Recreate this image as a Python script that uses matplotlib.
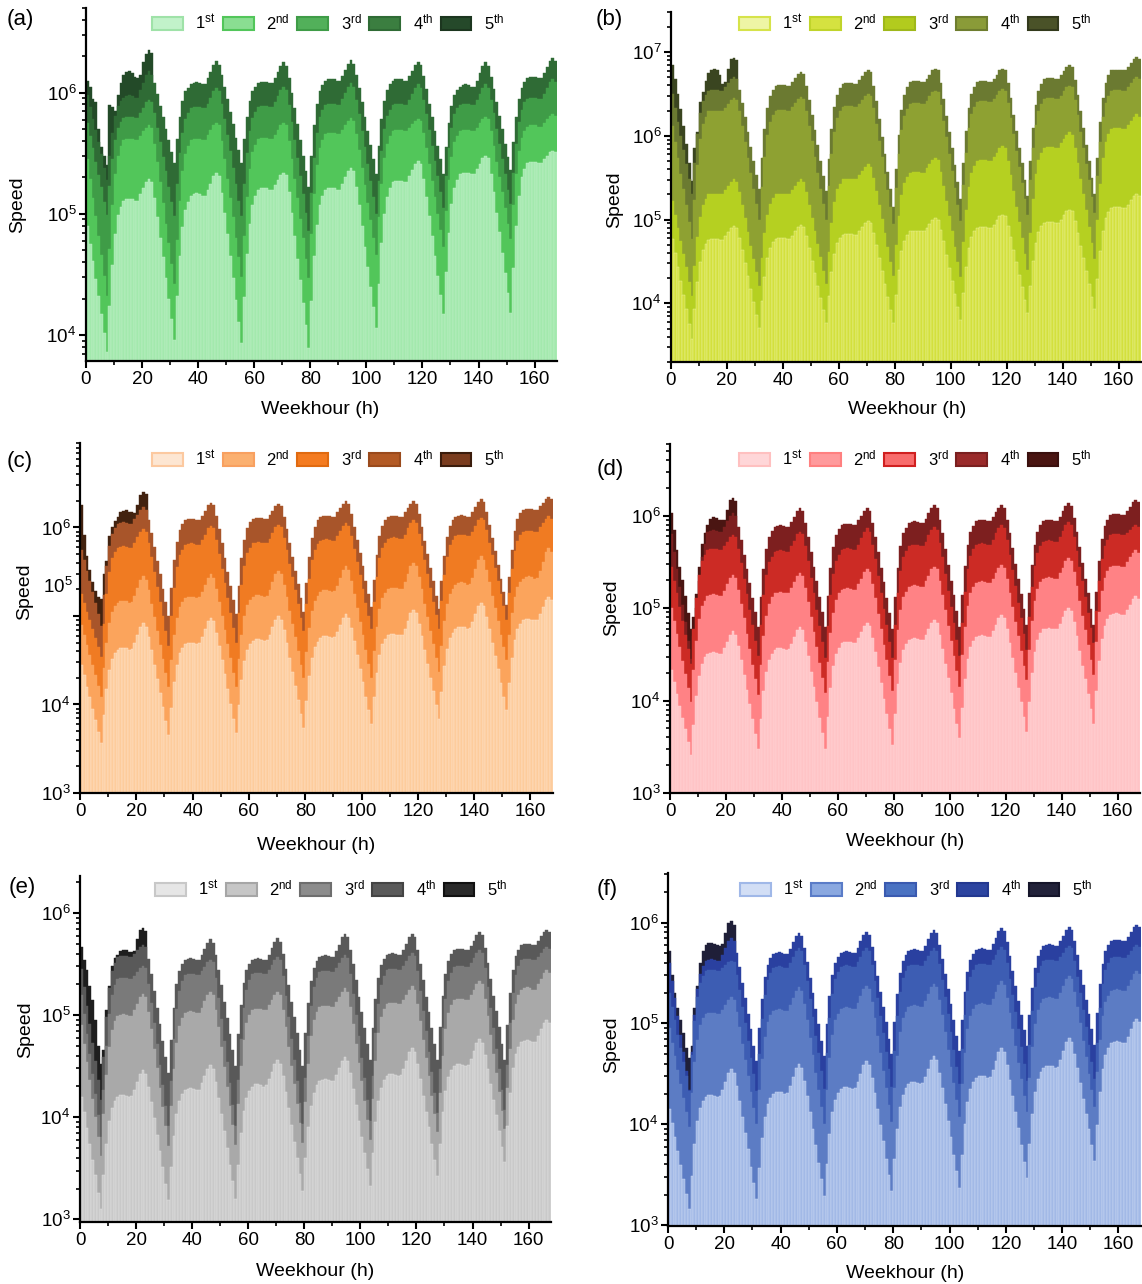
import numpy as np
import matplotlib
matplotlib.use('Agg')
import matplotlib.pyplot as plt
from matplotlib.patches import Patch
from matplotlib.ticker import MultipleLocator, LogLocator, FuncFormatter, NullFormatter

plt.rcParams['font.family'] = ['Liberation Sans', 'DejaVu Sans']
plt.rcParams['mathtext.fontset'] = 'custom'
plt.rcParams['mathtext.rm'] = 'Liberation Sans'
plt.rcParams['mathtext.it'] = 'Liberation Sans:italic'
plt.rcParams['mathtext.bf'] = 'Liberation Sans:bold'

# Hourly speed over one week, stored as 100*log10(speed), one row per day
hours = np.arange(168)
rank_labels = [r'1$^{\mathrm{st}}$', r'2$^{\mathrm{nd}}$', r'3$^{\mathrm{rd}}$',
               r'4$^{\mathrm{th}}$', r'5$^{\mathrm{th}}$']

# ---- (a) ----
a_1st = [490,475,461,446,432,417,402,386,424,458,483,499,506,511,512,512,512,511,511,516,521,526,529,526,
         513,497,480,464,447,430,413,396,432,465,489,503,510,515,516,517,516,515,515,520,525,531,534,531,
         517,501,483,465,447,429,411,393,431,467,492,507,515,520,521,521,521,520,520,524,528,532,534,532,
         518,501,482,463,445,426,408,389,428,465,491,507,515,520,521,521,521,520,520,525,530,535,538,535,
         522,507,490,473,456,440,423,406,442,476,500,514,521,526,527,527,527,526,526,531,536,541,544,541,
         529,514,498,482,465,449,433,417,452,484,508,521,528,533,534,534,534,533,533,537,541,546,548,546,
         533,518,501,485,468,451,435,418,455,490,515,530,537,542,543,543,543,542,542,545,548,551,552,551]
a_2nd = [545,529,513,498,482,466,449,432,471,507,533,548,556,561,562,562,562,561,561,564,568,571,573,571,
         558,543,526,509,492,476,459,442,478,511,535,549,556,561,562,562,562,561,561,565,569,573,575,573,
         560,545,529,513,497,480,464,448,482,514,537,551,557,562,563,563,563,562,562,565,569,573,575,573,
         560,545,529,513,496,480,463,447,483,516,540,554,561,566,567,567,567,566,566,569,573,577,579,577,
         566,553,538,524,509,495,480,466,497,525,546,558,564,568,569,569,569,568,568,571,574,577,578,577,
         567,554,541,527,514,500,487,473,502,528,547,559,564,568,569,569,569,568,568,571,575,578,580,578,
         568,556,543,530,518,505,492,479,507,533,552,563,568,572,573,573,573,572,572,575,578,581,582,581]
a_3rd = [575,564,554,543,532,522,510,499,523,545,561,571,576,579,580,580,580,579,579,583,587,592,594,592,
         583,571,559,547,535,522,510,498,525,550,567,578,583,587,588,588,588,587,587,591,596,601,604,601,
         591,578,565,552,538,525,511,498,525,550,568,579,584,588,589,589,589,588,588,592,597,602,605,602,
         590,576,561,546,531,516,501,486,517,546,567,580,586,590,591,591,591,590,590,595,600,605,608,605,
         594,582,568,555,541,527,514,500,527,552,570,581,586,590,591,591,591,590,590,594,599,604,607,604,
         594,582,569,556,544,531,518,505,531,554,571,582,587,590,591,591,591,590,590,594,599,604,607,604,
         594,583,570,558,545,533,520,508,534,558,576,586,592,595,596,596,596,595,595,599,604,609,611,609]
a_4th = [598,588,578,569,559,549,538,528,548,567,581,589,593,596,597,598,597,596,596,602,608,615,618,615,
         608,599,589,580,570,561,551,542,562,580,593,601,604,607,608,609,608,607,607,612,617,623,626,623,
         615,605,595,584,574,563,553,542,562,580,593,601,605,608,609,609,609,608,608,612,617,622,625,622,
         612,600,587,574,561,548,535,522,548,573,591,601,606,610,611,611,611,610,610,614,619,624,627,624,
         615,604,592,580,568,557,545,533,556,578,593,602,607,610,611,611,611,610,610,614,618,623,625,623,
         614,603,591,580,568,556,545,533,555,575,589,598,602,605,606,607,606,605,605,610,616,622,625,622,
         613,603,592,581,570,558,547,536,559,580,595,604,609,612,613,613,613,612,612,616,621,626,629,626]
a_5th = [610,605,595,592,570,555,548,540,590,588,585,598,608,615,617,618,616,613,612,615,625,632,635,633]

# ---- (b) ----
b_1st = [477,460,443,427,410,393,375,357,393,426,450,464,471,476,477,477,477,476,476,480,485,490,492,490,
         478,464,448,433,417,402,386,371,403,432,454,466,473,477,478,478,478,477,477,481,486,491,493,491,
         480,466,451,436,421,407,392,377,409,438,459,472,478,482,483,483,483,482,482,486,491,496,498,496,
         484,470,454,439,423,408,392,377,410,440,462,475,482,486,487,487,487,486,486,490,495,500,502,500,
         488,474,458,442,427,411,396,380,413,444,466,479,486,490,491,491,491,490,490,494,499,504,506,504,
         492,479,464,449,434,419,404,389,421,451,472,485,492,496,497,497,497,496,496,500,505,510,512,510,
         498,484,469,454,439,423,408,393,429,463,487,502,509,514,515,515,515,514,514,518,523,528,530,528]
b_2nd = [522,506,490,475,459,443,426,409,445,479,503,518,525,530,531,531,531,530,530,535,540,545,548,545,
         533,518,502,485,469,453,437,421,454,484,506,519,526,530,531,531,531,530,530,535,540,545,548,545,
         533,518,502,486,471,455,439,423,461,496,521,536,543,548,549,549,549,548,548,553,558,563,566,563,
         550,534,517,501,484,467,450,433,470,504,529,544,551,556,557,557,557,556,556,561,566,571,574,571,
         557,540,522,504,486,467,449,431,473,512,539,556,564,570,571,571,571,570,570,575,580,585,588,585,
         570,553,534,515,497,478,459,440,484,525,554,571,580,586,587,587,587,586,586,591,596,601,604,601,
         586,568,549,530,511,491,472,453,500,543,574,593,602,608,609,609,609,608,608,613,618,623,626,623]
b_3rd = [612,593,574,555,536,517,497,477,523,565,596,614,623,629,630,630,630,629,629,633,638,643,645,643,
         629,612,593,574,556,537,519,500,539,575,601,617,625,630,631,631,631,630,630,634,639,644,646,644,
         630,612,594,575,556,537,519,500,540,578,605,621,629,634,635,635,635,634,634,638,643,648,650,648,
         633,614,594,575,555,535,515,495,538,578,607,624,632,638,639,639,639,638,638,642,647,652,654,652,
         637,618,598,578,558,538,518,498,541,580,609,626,634,640,641,641,641,640,640,644,649,654,656,654,
         639,621,602,582,563,544,524,505,547,586,613,630,638,644,645,645,645,644,644,648,653,658,660,658,
         643,625,605,586,566,547,527,508,552,593,622,639,648,654,655,655,655,654,654,658,663,668,670,668]
b_4th = [650,633,616,600,583,566,548,530,567,602,627,642,649,654,655,655,655,654,654,658,663,668,670,668,
         655,639,622,605,587,570,553,536,573,608,633,648,655,660,661,661,661,660,660,664,669,674,676,674,
         660,643,625,607,589,570,552,534,572,608,634,649,657,662,663,663,663,662,662,666,671,676,678,676,
         660,641,620,599,578,557,536,515,560,601,631,649,658,664,665,665,665,664,664,668,673,678,680,678,
         663,644,624,605,585,565,545,525,567,606,633,650,658,664,665,665,665,664,664,668,673,678,680,678,
         663,645,625,606,586,567,547,528,570,609,637,654,662,668,669,669,669,668,668,672,677,682,684,682,
         667,649,629,609,589,570,550,530,574,616,645,663,672,678,679,679,679,678,678,682,687,692,694,692]
b_5th = [685,668,650,632,612,590,568,546,585,605,640,652,665,675,678,680,679,672,662,664,680,692,693,690]

# ---- (c) ----
c_1st = [445,433,420,408,395,383,369,356,388,417,439,451,458,462,464,464,464,462,463,470,479,488,492,488,
         476,461,445,429,413,397,381,365,396,425,445,458,464,468,470,470,470,468,469,476,485,494,498,494,
         481,466,450,434,417,401,384,368,399,428,449,462,468,472,474,474,473,472,473,479,487,496,500,496,
         484,469,453,437,421,405,389,373,404,432,453,465,471,475,477,477,476,475,476,482,490,498,502,498,
         486,472,456,440,425,409,394,378,408,436,456,468,474,478,480,480,479,478,479,485,494,503,507,503,
         491,477,461,446,430,415,399,384,414,443,463,475,481,485,487,487,487,485,486,493,502,511,515,511,
         499,485,470,455,440,424,409,394,424,453,473,485,491,495,497,497,496,495,496,502,510,518,522,518]
c_2nd = [490,479,467,456,445,433,421,409,441,470,492,504,511,515,517,517,517,515,516,523,532,541,545,541,
         529,514,499,483,467,451,436,420,450,478,498,510,516,520,522,522,521,520,521,527,535,543,547,543,
         531,516,500,484,468,452,436,420,451,479,500,512,518,522,524,524,523,522,523,529,538,547,551,547,
         535,521,506,491,476,460,445,430,459,486,506,517,523,527,529,529,528,527,528,534,543,552,556,552,
         540,525,509,493,478,462,446,430,460,488,508,520,526,530,532,532,532,530,531,538,547,556,560,556,
         544,530,514,499,483,468,452,437,466,494,513,525,531,535,537,538,537,535,536,543,553,563,568,563,
         552,538,523,509,494,479,465,450,478,503,522,533,538,542,544,545,544,542,543,551,561,572,577,572]
c_3rd = [525,515,505,495,485,475,465,454,491,525,550,565,572,577,578,579,578,577,577,582,589,595,598,595,
         582,567,550,533,516,500,483,466,500,532,555,569,575,580,581,582,581,580,580,586,592,599,602,599,
         586,570,553,537,520,503,486,469,503,535,557,571,577,582,583,584,583,582,582,587,594,600,603,600,
         588,574,559,544,529,513,498,483,514,542,563,575,581,585,586,587,586,585,585,590,596,602,605,602,
         590,576,561,546,531,515,500,485,516,544,565,577,583,587,588,589,588,587,587,592,599,605,608,605,
         593,579,563,547,532,516,501,485,517,546,567,580,586,590,591,592,591,590,590,595,602,608,611,608,
         597,583,569,554,540,525,511,496,526,553,573,585,591,595,596,596,596,595,595,600,605,610,613,610]
c_4th = [575,563,551,539,527,515,502,489,524,556,579,593,599,604,605,606,605,604,604,609,614,620,623,620,
         608,594,578,562,547,531,516,500,532,563,584,597,604,608,609,610,609,608,608,613,619,625,628,625,
         613,598,582,566,550,534,518,502,534,565,586,599,606,610,611,611,611,610,610,614,619,624,627,624,
         612,598,582,567,551,536,520,505,537,567,588,601,608,612,613,613,613,612,612,617,622,627,630,627,
         615,601,586,571,556,540,525,510,541,569,590,602,608,612,613,613,613,612,612,617,622,627,630,627,
         615,601,585,570,554,539,523,508,539,568,589,602,608,612,613,614,613,612,612,617,623,629,632,629,
         617,603,588,573,558,542,527,512,544,575,596,609,616,620,621,621,621,620,620,624,628,632,634,632]
c_5th = [625,592,568,552,538,528,522,519,547,562,590,600,607,612,617,619,620,618,617,616,625,637,640,638]

# ---- (d) ----
d_1st = [433,420,407,394,381,369,355,341,374,405,427,440,447,451,452,453,452,451,451,457,464,471,475,471,
         459,444,428,412,396,380,364,348,380,410,431,444,451,455,457,457,456,455,456,461,469,476,480,476,
         463,448,431,415,398,381,365,348,382,414,437,451,457,462,463,464,463,462,462,468,474,481,484,481,
         468,453,436,419,402,386,369,352,386,418,441,455,461,466,467,468,467,466,466,471,478,484,487,484,
         471,456,440,424,408,391,375,359,392,423,445,458,465,469,470,471,470,469,469,475,482,489,493,489,
         477,462,446,430,414,398,382,366,399,430,453,466,473,477,478,479,478,477,477,483,490,497,500,497,
         485,470,454,438,423,407,391,375,410,443,467,481,488,493,494,495,494,493,493,498,504,510,513,510]
d_2nd = [500,486,472,458,443,429,414,399,433,465,488,502,508,513,514,515,514,513,513,519,526,533,536,533,
         520,505,489,472,456,439,423,406,439,470,492,505,512,516,517,518,517,516,516,522,528,535,538,535,
         522,507,491,474,458,441,425,408,442,473,495,509,516,520,521,522,521,520,520,526,532,539,542,539,
         526,511,494,477,460,444,427,410,444,476,498,512,518,523,524,525,524,523,523,529,535,542,545,542,
         529,514,498,481,465,448,432,415,449,480,502,516,523,527,528,529,528,527,527,532,538,544,547,544,
         532,517,501,485,470,454,438,422,455,486,508,521,528,532,533,534,533,532,532,538,544,551,554,551,
         539,524,508,492,476,460,444,428,463,496,519,533,540,545,546,546,546,545,545,550,555,560,563,560]
d_3rd = [545,530,516,501,486,471,456,440,477,511,536,551,558,563,564,564,564,563,563,567,572,577,579,577,
         564,549,532,515,498,482,465,448,482,514,536,550,556,561,562,563,562,561,561,567,573,580,583,580,
         567,551,533,516,498,481,463,446,481,514,537,551,558,563,564,565,564,563,563,569,576,583,587,583,
         569,553,535,517,499,482,464,446,482,516,540,555,562,567,568,569,568,567,567,572,579,585,588,585,
         571,555,537,519,501,484,466,448,484,518,542,557,564,569,570,571,570,569,569,574,581,587,590,587,
         574,558,541,524,506,489,472,455,490,523,546,560,567,572,573,574,573,572,572,577,584,590,593,590,
         577,562,545,529,512,495,479,462,497,530,553,567,574,579,580,580,580,579,579,582,585,588,590,588]
d_4th = [580,561,542,523,504,485,465,445,470,500,530,555,570,583,584,585,584,583,583,588,594,600,603,600,
         588,574,558,542,527,511,496,480,512,543,564,577,584,588,589,590,589,588,588,593,599,605,608,605,
         592,577,561,545,529,512,496,480,513,544,566,579,586,590,591,591,591,590,590,595,600,605,608,605,
         592,577,561,544,528,511,495,478,512,544,567,581,587,592,593,594,593,592,592,597,603,609,612,609,
         596,581,564,547,530,514,497,480,514,546,569,583,589,594,595,595,595,594,594,599,604,609,612,609,
         596,581,565,548,532,515,499,482,516,547,569,583,590,594,595,596,595,594,594,599,605,611,614,611,
         598,583,566,549,532,516,499,482,518,551,575,589,596,601,602,602,602,601,601,605,610,615,617,615]
d_5th = [603,585,563,545,531,513,495,477,490,515,545,570,582,590,597,599,598,596,595,596,606,617,619,616]

# ---- (e) ----
e_1st = [420,405,389,374,358,343,326,310,343,374,396,409,416,420,422,422,421,420,421,427,434,442,446,442,
         430,415,399,383,367,351,335,319,351,382,403,416,423,427,428,429,428,427,427,433,440,447,451,447,
         434,419,403,386,370,353,337,320,353,384,406,419,426,430,432,432,431,430,431,437,444,452,456,452,
         440,425,409,392,376,360,344,328,360,390,411,424,431,435,436,437,436,435,435,441,448,455,459,455,
         443,428,412,396,381,365,349,333,365,395,416,429,436,440,442,442,441,440,441,447,455,464,468,464,
         452,437,421,405,390,374,358,342,374,405,426,439,446,450,452,452,451,450,451,457,465,473,477,473,
         461,447,432,417,402,386,371,356,391,424,448,462,469,474,475,476,475,474,474,479,486,492,495,492]
e_2nd = [490,472,454,436,418,400,381,362,403,441,469,485,494,499,500,501,500,499,499,505,511,518,521,518,
         503,486,467,448,429,410,391,372,411,447,473,489,497,502,503,504,503,502,502,507,514,520,523,520,
         505,488,469,449,430,411,392,373,413,450,476,492,500,505,506,506,506,505,505,510,515,520,523,520,
         505,488,469,450,432,413,394,375,415,452,479,495,503,508,509,509,509,508,508,513,518,523,526,523,
         508,491,472,453,435,416,397,378,418,455,482,498,506,511,512,512,512,511,511,515,520,525,528,525,
         511,494,476,458,440,421,403,385,424,460,486,502,510,515,516,516,516,515,515,520,525,530,533,530,
         516,499,480,462,443,425,406,388,429,467,495,511,520,525,526,527,526,525,525,530,535,541,544,541]
e_3rd = [520,501,481,462,442,423,402,381,427,470,501,520,529,535,536,536,536,535,535,538,542,546,548,546,
         530,512,492,472,451,431,411,391,435,477,506,524,533,539,540,540,540,539,539,543,547,552,554,552,
         536,517,496,475,454,433,412,391,436,477,507,525,534,540,541,541,541,540,540,544,549,554,557,554,
         538,519,498,477,456,435,414,393,438,479,509,527,536,542,543,543,543,542,542,546,551,556,559,556,
         540,521,500,479,458,438,417,396,440,482,511,529,538,544,545,545,545,544,544,548,553,558,561,558,
         543,524,504,484,464,444,424,404,447,487,516,533,541,547,548,548,548,547,547,551,556,561,564,561,
         546,527,507,487,467,447,427,407,451,492,522,539,548,554,555,555,555,554,554,557,561,565,567,565]
e_4th = [545,527,509,491,473,455,436,417,459,498,526,543,551,557,558,558,558,557,557,560,564,567,569,567,
         555,540,524,507,491,475,459,443,476,507,530,543,550,554,555,556,555,554,554,559,565,571,574,571,
         559,544,529,513,497,481,466,450,481,510,531,544,550,554,555,556,555,554,554,559,566,572,575,572,
         560,545,529,513,498,482,466,450,482,512,533,546,553,557,558,559,558,557,557,563,569,576,579,576,
         564,550,534,518,503,487,472,456,487,516,536,549,555,559,560,561,560,559,559,564,570,576,579,576,
         564,550,534,518,503,487,472,456,488,519,540,553,560,564,565,565,565,564,564,568,573,578,581,578,
         566,551,535,519,504,488,472,456,490,522,544,558,564,569,570,570,570,569,569,573,577,581,583,581]
e_5th = [567,554,544,528,515,495,470,452,466,505,528,548,556,559,563,564,564,562,562,563,574,583,585,582]

# ---- (f) ----
f_1st = [415,401,387,373,360,346,331,316,349,380,403,416,423,427,429,429,428,427,428,434,442,451,455,451,
         438,423,407,391,375,358,342,326,357,386,407,420,426,430,432,432,432,430,431,438,447,456,460,456,
         443,428,412,395,379,362,346,329,361,390,412,424,431,435,437,437,436,435,436,442,450,459,463,459,
         446,431,415,399,383,366,350,334,366,395,417,429,436,440,442,442,441,440,441,447,455,464,468,464,
         451,436,420,403,387,370,354,337,370,400,422,435,442,446,448,448,448,446,447,454,463,472,476,472,
         459,444,428,412,396,379,363,347,380,410,432,445,452,456,458,458,458,456,457,464,473,482,486,482,
         470,456,441,425,410,395,379,364,399,432,455,469,476,481,482,483,482,481,481,487,494,501,504,501]
f_2nd = [495,481,468,454,440,426,412,397,431,462,484,498,505,509,510,510,510,509,509,513,518,523,526,523,
         511,496,480,464,448,432,416,400,434,465,487,501,508,512,513,514,513,512,512,518,525,532,536,532,
         519,503,486,469,451,434,417,400,434,466,489,503,509,514,515,516,515,514,514,520,527,534,537,534,
         521,505,488,471,453,436,419,402,436,468,491,505,511,516,517,518,517,516,516,522,529,536,539,536,
         523,508,491,474,457,441,424,407,440,471,494,507,514,518,519,520,519,518,518,524,531,538,542,538,
         525,510,494,478,461,445,428,412,446,477,499,513,520,524,525,526,525,524,524,530,537,544,547,544,
         531,516,500,483,467,450,434,417,452,484,507,521,527,532,533,534,533,532,532,537,543,549,552,549]
f_3rd = [530,516,503,489,476,462,448,433,469,502,526,540,547,552,553,553,553,552,552,555,558,561,562,561,
         548,533,516,500,483,466,450,433,470,504,528,543,550,555,556,557,556,555,555,560,566,572,575,572,
         558,542,524,506,488,471,453,435,471,505,529,544,551,556,557,558,557,556,556,561,566,572,575,572,
         558,542,525,507,490,472,455,437,473,507,531,545,552,557,558,558,558,557,557,562,567,572,575,572,
         559,543,526,509,491,474,457,440,475,508,532,546,553,558,559,559,559,558,558,563,568,573,576,573,
         560,544,528,511,494,477,460,443,479,512,536,550,557,562,563,563,563,562,562,566,570,575,577,575,
         562,546,530,513,496,479,462,445,481,515,539,553,560,565,566,566,566,565,565,568,572,576,578,576]
f_4th = [560,542,525,507,489,472,453,434,472,508,534,549,557,562,563,564,563,562,562,568,575,582,585,582,
         570,556,540,525,509,494,478,463,495,524,546,558,565,569,570,571,570,569,569,574,581,587,590,587,
         575,561,545,530,514,499,483,468,499,527,548,560,566,570,571,572,571,570,570,575,582,588,591,588,
         576,562,547,531,516,501,485,470,501,529,550,562,568,572,573,574,573,572,572,577,584,590,593,590,
         578,564,549,534,519,503,488,473,503,531,551,563,569,573,574,575,574,573,573,579,585,592,595,592,
         581,567,552,537,522,508,493,478,508,535,555,567,573,577,578,579,578,577,577,582,587,593,596,593,
         582,568,553,538,523,509,494,479,510,539,559,572,578,582,583,583,583,582,582,586,591,596,598,596]
f_5th = [572,548,530,515,503,490,476,466,478,515,537,560,572,578,580,580,579,578,577,579,590,600,602,598]

# colours: bar colour, legend fill, legend edge (1st..5th)
a_bar = ['#a3e9ad', '#52c65a', '#3f9c47', '#2f6b35', '#234a28']
a_fill = ['#c2f2ca', '#8ade92', '#52b05a', '#3b7e40', '#25492a']
a_edge = ['#9fe2a8', '#52c65a', '#3f9c47', '#2f6b35', '#1c361f']
b_bar = ['#d3e03d', '#b5d021', '#8ea132', '#6b7a31', '#3a4520']
b_fill = ['#eef5a5', '#d5e240', '#b2cb1e', '#8a9b38', '#4a5228']
b_edge = ['#d6e34a', '#c0d42a', '#9fb81a', '#6e7d2e', '#333a1c']
c_bar = ['#fdcc9c', '#fba45c', '#f07b22', '#a8552a', '#42220f']
c_fill = ['#fde6d2', '#fbb070', '#f47b20', '#b35a25', '#7a3c1e']
c_edge = ['#fcc9a0', '#f8a060', '#e06a10', '#9a4a1c', '#3a1c0c']
d_bar = ['#ffc4c6', '#ff8285', '#cc2b25', '#7d1f1f', '#4a1512']
d_fill = ['#ffd6d8', '#ff9a9c', '#f86c6c', '#9a2a2a', '#4a1512']
d_edge = ['#ffc0c0', '#ff8080', '#d02020', '#7a1f1f', '#3a100e']
e_bar = ['#c9c9c9', '#a9a9a9', '#7a7a7a', '#595959', '#1e1e1e']
e_fill = ['#e6e6e6', '#c6c6c6', '#8c8c8c', '#5a5a5a', '#2a2a2a']
e_edge = ['#c8c8c8', '#a6a6a6', '#6e6e6e', '#444444', '#111111']
f_bar = ['#a2b9e6', '#5c7cc4', '#3d5db3', '#2a40a0', '#1f1f38']
f_fill = ['#d2def5', '#8aa8e0', '#4a72c2', '#2c44a0', '#22223a']
f_edge = ['#a0b8e8', '#5a7cc8', '#3a5ab0', '#233890', '#15152a']

W, H = 1142, 1284
fig = plt.figure(figsize=(W / 100, H / 100), dpi=100)


def fx(x):
    return x / W


def fy(y):
    return 1 - y / H


def decade_label(v, pos):
    return r'$\mathrm{10^{%d}}$' % int(round(np.log10(v)))


def draw_panel(tag, series, bar_cols, fills, edges, box, ylim, leg_c, tag_xy, ylab_xy, xlab_xy, hide_major=None):
    l, t, r, b = box
    ax = fig.add_axes([fx(l), fy(b), (r - l) / W, (b - t) / H])
    ax.set_yscale('log')
    floor = ylim[0] / 10
    # largest layer first so every smaller one sits in front;
    # only the lightest layer keeps faint column seams
    layers = list(zip(series, bar_cols, fills))
    for i in range(len(layers) - 1, -1, -1):
        vals, col, lite = layers[i]
        speed = 10 ** (np.asarray(vals) / 100)
        x = hours[:len(speed)]
        seam = lite if i == 0 else col
        ax.bar(x, speed - floor, bottom=floor, width=1.0, align='edge',
               color=col, edgecolor=seam, linewidth=0.3)
    ax.set_xlim(0, 168)
    ax.set_ylim(*ylim)
    for s in ['top', 'right']:
        ax.spines[s].set_visible(False)
    for s in ['left', 'bottom']:
        ax.spines[s].set_linewidth(1.6)
    ax.xaxis.set_major_locator(MultipleLocator(20))
    ax.xaxis.set_minor_locator(MultipleLocator(10))
    ax.yaxis.set_major_locator(LogLocator(base=10, numticks=20))
    ax.yaxis.set_minor_locator(LogLocator(base=10, subs=np.arange(2, 10), numticks=20))
    ax.yaxis.set_minor_formatter(NullFormatter())
    if hide_major is None:
        ax.yaxis.set_major_formatter(FuncFormatter(decade_label))
    else:
        ax.yaxis.set_major_formatter(FuncFormatter(
            lambda v, p: '' if abs(np.log10(v) - hide_major) < 0.01 else decade_label(v, p)))
    ax.tick_params(axis='both', which='major', direction='out', length=5, width=1.5,
                   labelsize=13.5, pad=2, colors='black')
    ax.tick_params(axis='both', which='minor', direction='out', length=3, width=1.2)

    handles = [Patch(facecolor=fc, edgecolor=ec, linewidth=1.5) for fc, ec in zip(fills, edges)]
    fig.legend(handles, rank_labels, loc='center', bbox_to_anchor=(fx(leg_c[0]), fy(leg_c[1])),
               ncol=5, frameon=False, fontsize=12, handlelength=1.85, handleheight=0.85,
               handletextpad=0.75, columnspacing=0.45, borderpad=0, borderaxespad=0)
    fig.text(fx(tag_xy[0]), fy(tag_xy[1]), tag, fontsize=16, ha='left', va='center')
    fig.text(fx(ylab_xy[0]), fy(ylab_xy[1]), 'Speed', fontsize=14, rotation=90,
             ha='center', va='center')
    fig.text(fx(xlab_xy[0]), fy(xlab_xy[1]), 'Weekhour (h)', fontsize=14,
             ha='center', va='center')
    return ax


draw_panel('(a)', [a_1st, a_2nd, a_3rd, a_4th, a_5th], a_bar, a_fill, a_edge,
           (86, 8, 557, 361), (6.1e3, 5e6), (328, 22), (7, 20), (18, 205), (320, 410))
draw_panel('(b)', [b_1st, b_2nd, b_3rd, b_4th, b_5th], b_bar, b_fill, b_edge,
           (671, 12, 1141, 362), (2.0e3, 3.0e7), (915, 22), (596, 20), (615, 200), (907, 410))
draw_panel('(c)', [c_1st, c_2nd, c_3rd, c_4th, c_5th], c_bar, c_fill, c_edge,
           (80, 443, 553, 793), (1e3, 9e6), (328, 458), (7, 462), (25, 592), (316, 846),
           hide_major=5)
# the 10^5 label of panel (c) sits above its tick
fig.text(fx(73), fy(587), r'$\mathrm{10^{5}}$', fontsize=13.5, ha='right', va='center')
draw_panel('(d)', [d_1st, d_2nd, d_3rd, d_4th, d_5th], d_bar, d_fill, d_edge,
           (670, 444, 1140, 793), (1e3, 6e6), (915, 458), (597, 470), (612, 608), (905, 842))
draw_panel('(e)', [e_1st, e_2nd, e_3rd, e_4th, e_5th], e_bar, e_fill, e_edge,
           (80, 876, 551, 1222), (9.4e2, 2.3e6), (331, 888), (9, 888), (26, 1030), (315, 1272))
draw_panel('(f)', [f_1st, f_2nd, f_3rd, f_4th, f_5th], f_bar, f_fill, f_edge,
           (668, 873, 1141, 1226), (9.8e2, 3.1e6), (916, 888), (597, 890), (612, 1045), (905, 1273))

fig.savefig('out.png', dpi=100)
